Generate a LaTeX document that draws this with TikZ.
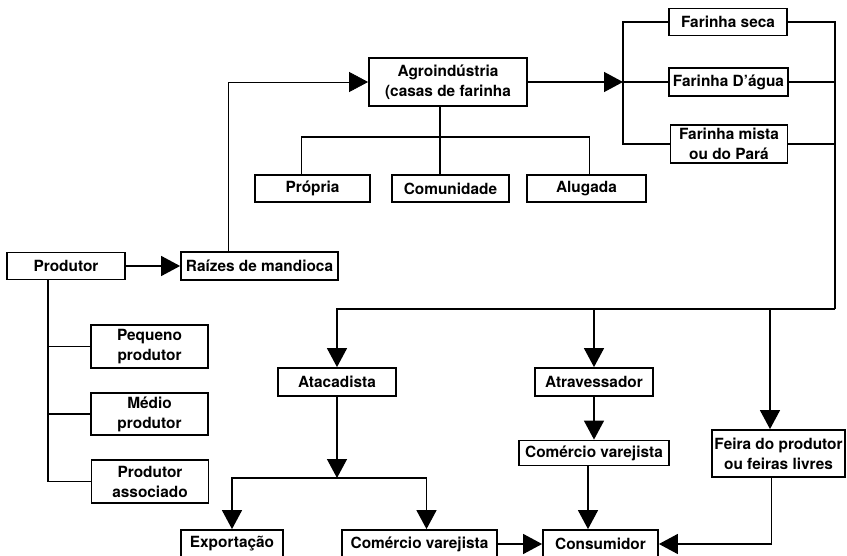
\documentclass[tikz,border=0pt]{standalone}
\usepackage{fontspec}
\setmainfont{TeX Gyre Heros}
\usetikzlibrary{arrows.meta}
\begin{document}
\begin{tikzpicture}[x=1pt, y=-1pt, line width=1.4pt,
  box/.style={draw, line width=1.8pt, inner sep=0pt, align=center, font=\bfseries\fontsize{15.4}{20}\selectfont},
  arr/.style={-{Triangle[length=19pt, width=20pt]}}]
\useasboundingbox (0,0) rectangle (847,556);
\node[box, minimum width=118, minimum height=27] (prod) at (66,266){Produtor};
\node[box, minimum width=157, minimum height=28] (raiz) at (259.5,266){Raízes de mandioca};
\node[box, minimum width=158, minimum height=48] (agro) at (448,82){Agroindústria\\(casas de farinha};
\node[box, minimum width=118, minimum height=27] (seca) at (728,22){Farinha seca};
\node[box, minimum width=119, minimum height=28] (dagua) at (728.5,82){Farinha D’água};
\node[box, minimum width=117, minimum height=38] (mista) at (729,144){Farinha mista\\ou do Pará};
\node[box, minimum width=115, minimum height=27] (propria) at (312.5,188.5){Própria};
\node[box, minimum width=117, minimum height=27] (comun) at (450.5,188.5){Comunidade};
\node[box, minimum width=119, minimum height=27] (alug) at (586.5,188.5){Alugada};
\node[box, minimum width=117, minimum height=43] (peq) at (149.5,346.5){Pequeno\\produtor};
\node[box, minimum width=117, minimum height=42] (medio) at (149.5,414){Médio\\produtor};
\node[box, minimum width=117, minimum height=43] (assoc) at (150,481.5){Produtor\\associado};
\node[box, minimum width=118, minimum height=28] (atac) at (337,382){Atacadista};
\node[box, minimum width=118, minimum height=28] (atrav) at (594,382){Atravessador};
\node[box, minimum width=150, minimum height=25] (varA) at (594,453){Comércio varejista};
\node[box, minimum width=133, minimum height=47] (feira) at (778.5,453.5){Feira do produtor\\ou feiras livres};
\node[box, minimum width=102, minimum height=28] (export) at (232,544){Exportação};
\node[box, minimum width=155, minimum height=28] (varB) at (419.5,544){Comércio varejista};
\node[box, minimum width=115, minimum height=28] (cons) at (600.5,544){Consumidor};
\coordinate (spl) at (623,82);
\coordinate (rgt) at (835,309);
\coordinate (fr) at (770,309);
\coordinate (mid) at (337,478);
\coordinate (cv) at (588,465);
\coordinate (ag) at (440,137);
\draw[arr](prod) -- (raiz);
\draw[arr, line width=0.8pt]([xshift=-31]raiz.north) |- (agro);
\draw[arr](agro) -- (spl);
\draw[](seca) -| (spl) |- (mista);
\draw[](spl) -- (dagua);
\draw[](seca) -| (rgt);
\draw[](dagua) -| (rgt);
\draw[](mista) -| (rgt);
\draw[](ag |- agro.south) -- (ag);
\draw[](ag) -| ([xshift=-11]propria.north);
\draw[](ag) -| ([xshift=3]alug.north);
\draw[](ag) -- (ag |- comun.north);
\draw[]([xshift=-18]prod.south) |- (peq);
\draw[]([xshift=-18]prod.south) |- (medio);
\draw[]([xshift=-18]prod.south) |- (assoc);
\draw[arr](rgt) -| (atac);
\draw[arr](atrav |- rgt) -- (atrav);
\draw[arr](fr) -- (fr |- feira.north);
\draw[arr](atac) -- (mid);
\draw[arr](mid) -| (export);
\draw[arr](mid) -| ([xshift=7]varB.north);
\draw[arr](atrav) -- (varA);
\draw[arr](cv) -- (cv |- cons.north);
\draw[arr](varB) -- (cons);
\draw[arr]([xshift=-7]feira.south) |- (cons.east);
\end{tikzpicture}
\end{document}
